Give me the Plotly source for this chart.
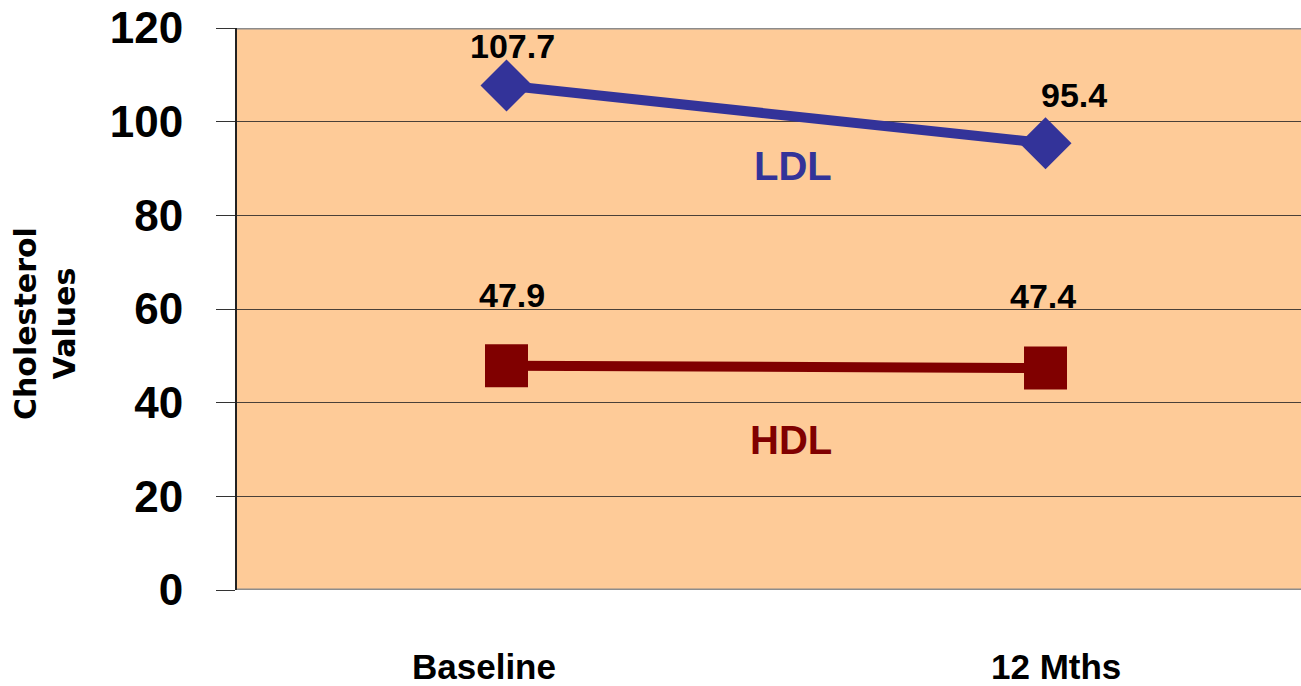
import plotly.graph_objects as go

# Cholesterol values at the two time points
periods = ["Baseline", "12 Mths"]
ldl = [107.7, 95.4]
hdl = [47.9, 47.4]
y_ticks = [0, 20, 40, 60, 80, 100, 120]

LDL_COLOR = "#333399"
HDL_COLOR = "#800000"
FONT = "Arial, Liberation Sans, sans-serif"

fig = go.Figure()

fig.add_trace(go.Scatter(
    x=periods, y=ldl, mode="lines+markers",
    line=dict(color=LDL_COLOR, width=10),
    marker=dict(symbol="diamond", size=40, color=LDL_COLOR),
    showlegend=False, hoverinfo="skip",
))
fig.add_trace(go.Scatter(
    x=periods, y=hdl, mode="lines+markers",
    line=dict(color=HDL_COLOR, width=10),
    marker=dict(symbol="square", size=43, color=HDL_COLOR),
    showlegend=False, hoverinfo="skip",
))

annotations = []
label_font = dict(family=FONT, size=34, color="black", weight="bold")
# value labels
ldl_shift = [(6, 40), (28, 48)]
hdl_shift = [(5, 71), (-3, 72)]
for p, v, (dx, dy) in zip(periods, ldl, ldl_shift):
    annotations.append(dict(x=p, y=v, text=f"{v:.1f}", showarrow=False,
                            xshift=dx, yshift=dy, font=label_font))
for p, v, (dx, dy) in zip(periods, hdl, hdl_shift):
    annotations.append(dict(x=p, y=v, text=f"{v:.1f}", showarrow=False,
                            xshift=dx, yshift=dy, font=label_font))

# series names
annotations.append(dict(x=0.5, y=ldl[0], xref="x", yref="y", text="LDL", showarrow=False,
                        xshift=17, yshift=-80,
                        font=dict(family=FONT, size=40, color=LDL_COLOR, weight="bold")))
annotations.append(dict(x=0.5, y=hdl[0], xref="x", yref="y", text="HDL", showarrow=False,
                        xshift=15, yshift=-74,
                        font=dict(family=FONT, size=40, color=HDL_COLOR, weight="bold")))

# category labels under the axis
for p, dx in zip(periods, [-23, 10]):
    annotations.append(dict(x=p, y=0, text=p, showarrow=False, xshift=dx,
                            yref="paper", yanchor="middle", yshift=-76,
                            font=dict(family=FONT, size=35, color="black", weight="bold")))

# y-axis title
annotations.append(dict(x=0, y=0.5, xref="paper", yref="paper", xanchor="center",
                        text="Cholesterol<br>Values", textangle=-90, showarrow=False,
                        xshift=-192, yshift=-15,
                        font=dict(family="DejaVu Sans", size=30, color="black", weight="bold")))

fig.update_layout(
    width=1301, height=686,
    margin=dict(l=237, r=0, t=28, b=96),
    paper_bgcolor="white",
    plot_bgcolor="#FECB98",
    annotations=annotations,
    xaxis=dict(
        type="category", range=[-0.5, 1.474],
        showticklabels=False, showgrid=False, zeroline=False,
        showline=False, ticks="",
    ),
    yaxis=dict(
        range=[0, 120], tickvals=y_ticks,
        showgrid=True, gridcolor="#4a4038", gridwidth=1,
        zeroline=False,
        showline=True, linecolor="#222", linewidth=2,
        ticks="outside", ticklen=19, tickcolor="#333", tickwidth=1,
        ticklabelstandoff=24,
        tickfont=dict(family=FONT, size=44, color="black", weight="bold"),
    ),
    shapes=[
        dict(type="line", xref="paper", yref="y", x0=0, x1=1, y0=120, y1=120,
             line=dict(color="#8c8c8c", width=3)),
        dict(type="line", xref="paper", yref="y", x0=0, x1=1, y0=0, y1=0,
             line=dict(color="#8c8c8c", width=3)),
    ],
)

fig.write_html("out.html")
